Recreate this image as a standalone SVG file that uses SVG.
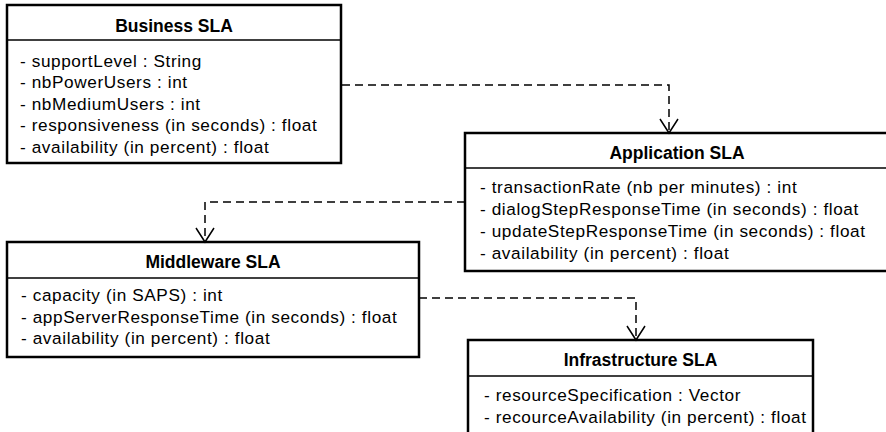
<svg xmlns="http://www.w3.org/2000/svg" width="886" height="432" viewBox="0 0 886 432">
<style>
.box{fill:#fff;stroke:#000;stroke-width:2.5}
.div{stroke:#000;stroke-width:1.5}
.title{font-family:"Liberation Sans",Arial,sans-serif;font-weight:bold;font-size:17.5px;text-anchor:middle;fill:#000}
.attr{font-family:"Liberation Sans",Arial,sans-serif;font-size:17.2px;letter-spacing:0.6px;fill:#000}
.dep{fill:none;stroke:#000;stroke-width:1.5;stroke-dasharray:8 5}
.head{fill:none;stroke:#000;stroke-width:1.5}
</style>
<rect width="886" height="432" fill="#fff"/>
<g id="business">
<rect class="box" x="7" y="5" width="334" height="158"/>
<line class="div" x1="7" y1="40" x2="341" y2="40"/>
<text class="title" x="174" y="31.5">Business SLA</text>
<text class="attr" x="20" y="66.5">- supportLevel : String</text>
<text class="attr" x="20" y="88">- nbPowerUsers : int</text>
<text class="attr" x="20" y="109.5">- nbMediumUsers : int</text>
<text class="attr" x="20" y="131">- responsiveness (in seconds) : float</text>
<text class="attr" x="20" y="152.5">- availability (in percent) : float</text>
</g>
<g id="application">
<rect class="box" x="465" y="133" width="424" height="138"/>
<line class="div" x1="465" y1="168" x2="889" y2="168"/>
<text class="title" x="677" y="159">Application SLA</text>
<text class="attr" x="480" y="193">- transactionRate (nb per minutes) : int</text>
<text class="attr" x="480" y="215">- dialogStepResponseTime (in seconds) : float</text>
<text class="attr" x="480" y="237">- updateStepResponseTime (in seconds) : float</text>
<text class="attr" x="480" y="259">- availability (in percent) : float</text>
</g>
<g id="middleware">
<rect class="box" x="7" y="242" width="412" height="115"/>
<line class="div" x1="7" y1="278" x2="419" y2="278"/>
<text class="title" x="213" y="267.5">Middleware SLA</text>
<text class="attr" x="21" y="301">- capacity (in SAPS) : int</text>
<text class="attr" x="21" y="322.5">- appServerResponseTime (in seconds) : float</text>
<text class="attr" x="21" y="344">- availability (in percent) : float</text>
</g>
<g id="infrastructure">
<rect class="box" x="468" y="340" width="345" height="95"/>
<line class="div" x1="468" y1="376" x2="813" y2="376"/>
<text class="title" x="640.5" y="366">Infrastructure SLA</text>
<text class="attr" x="484" y="401">- resourceSpecification : Vector</text>
<text class="attr" x="484" y="423">- recourceAvailability (in percent) : float</text>
</g>
<g id="connectors">
<path class="dep" d="M342 85 H669 V132"/>
<path class="head" d="M660 119 L669 133 L678 119"/>
<path class="dep" d="M465 202 H205 V241"/>
<path class="head" d="M196 228 L205 242 L214 228"/>
<path class="dep" d="M419 298 H636 V339"/>
<path class="head" d="M627 326 L636 340 L645 326"/>
</g>
</svg>
